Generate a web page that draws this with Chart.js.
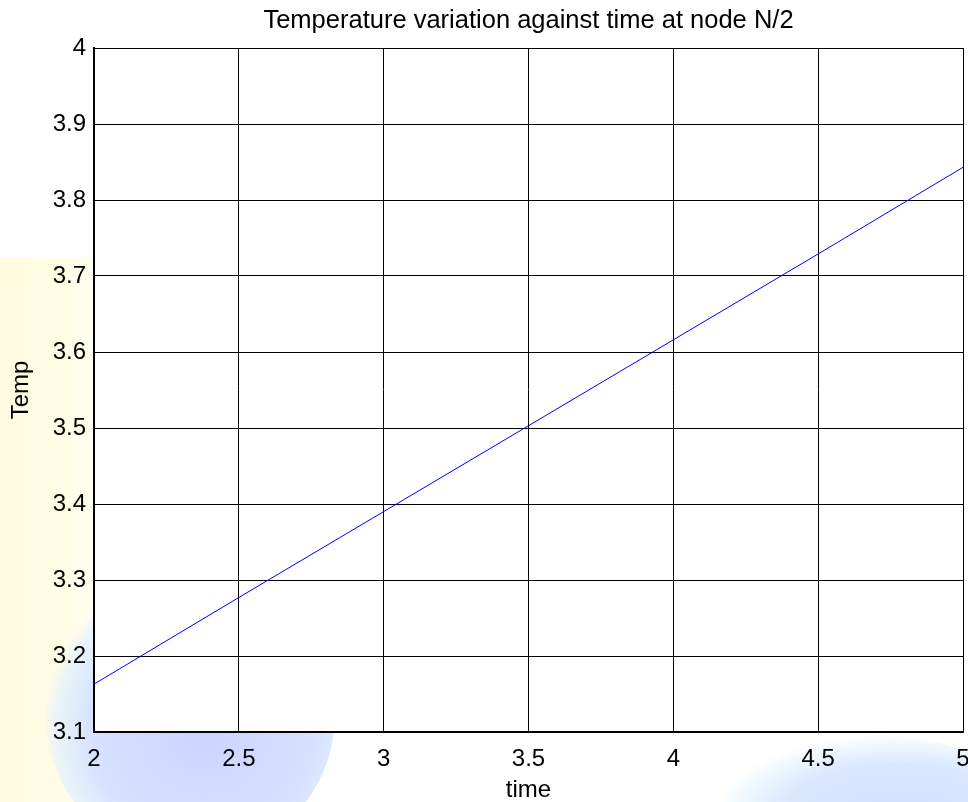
<!DOCTYPE html>
<html>
<head>
<meta charset="utf-8">
<script src="https://cdn.jsdelivr.net/npm/chart.js@4"></script>
<style>
  html, body { margin: 0; padding: 0; background: #fff; }
  #wrap { position: relative; width: 968px; height: 802px; overflow: hidden; }
  /* faint watermark behind the figure */
  .bg { position: absolute; }
  .bg.yellow { left: 0; top: 258px; width: 93px; height: 544px;
    background: linear-gradient(90deg, #fffbe0 0%, #fffde6 70%, #fffef0 100%); }
  .bg.blue1 { left: 45px; top: 570px; width: 290px; height: 290px; border-radius: 50%;
    background: radial-gradient(circle at 55% 55%, #cdd3ff 0%, #d6e2ff 50%, rgba(225,240,255,0.7) 66%, rgba(255,255,255,0) 72%); }
  .bg.blue3 { left: 720px; top: 735px; width: 300px; height: 140px; border-radius: 50%;
    background: radial-gradient(ellipse at 60% 55%, #d2dfff 0%, #dae8ff 45%, rgba(230,245,255,0.6) 63%, rgba(255,255,255,0) 72%); }
  canvas { position: absolute; left: 0; top: 0; }
</style>
</head>
<body>
<div id="wrap">
  <div class="bg yellow"></div>
  <div class="bg blue1"></div>
  <div class="bg blue3"></div>
  <canvas id="chart" width="968" height="802"></canvas>
</div>
<script>
// values
const timeValues = [2, 2.5, 3, 3.5, 4, 4.5, 5];
const tempValues = [3.163, 3.277, 3.390, 3.503, 3.616, 3.729, 3.843];

const xTicks = [2, 2.5, 3, 3.5, 4, 4.5, 5];
const yTicks = [3.1, 3.2, 3.3, 3.4, 3.5, 3.6, 3.7, 3.8, 3.9, 4];

const chartTitle = 'Temperature variation against time at node N/2';
const xLabel = 'time';
const yLabel = 'Temp';

const FONT = "'Liberation Sans', Arial, sans-serif";

// white plot box behind the grid
const plotBackground = {
    id: 'plotBackground',
    beforeDraw(chart) {
        const { ctx, chartArea } = chart;
        ctx.save();
        ctx.fillStyle = '#ffffff';
        ctx.fillRect(chartArea.left, chartArea.top,
            chartArea.right - chartArea.left, chartArea.bottom - chartArea.top);
        ctx.restore();
    }
};

// title centred over the plot box (matlab style), not over the whole canvas
const axesTitle = {
    id: 'axesTitle',
    afterDraw(chart) {
        const { ctx, chartArea } = chart;
        ctx.save();
        ctx.fillStyle = '#000';
        ctx.font = '25.5px ' + FONT;
        ctx.textAlign = 'center';
        ctx.textBaseline = 'middle';
        ctx.fillText(chartTitle, (chartArea.left + chartArea.right) / 2, chartArea.top - 27);
        ctx.restore();
    }
};

const fmt = v => String(+Number(v).toFixed(2));

const ctx = document.getElementById('chart').getContext('2d');
new Chart(ctx, {
    type: 'line',
    data: {
        datasets: [{
            data: timeValues.map((t, i) => ({ x: t, y: tempValues[i] })),
            borderColor: '#0000ff',
            borderWidth: 1,
            pointRadius: 0,
            tension: 0,
            fill: false
        }]
    },
    options: {
        responsive: false,
        animation: false,
        layout: { padding: { left: 0, right: 5, top: 48, bottom: 0 } },
        plugins: {
            legend: { display: false },
            tooltip: { enabled: false },
            title: { display: false }
        },
        scales: {
            x: {
                type: 'linear',
                min: 2,
                max: 5,
                afterBuildTicks: s => { s.ticks = xTicks.map(v => ({ value: v })); },
                afterFit: s => { s.height = 70; s.paddingRight = 0; s.paddingLeft = 0; },
                ticks: {
                    color: '#000',
                    font: { family: FONT, size: 24 },
                    padding: 13,
                    maxRotation: 0,
                    autoSkip: false,
                    callback: fmt
                },
                grid: { color: '#000', lineWidth: 1, drawTicks: false },
                border: { color: '#000', width: 2 },
                title: {
                    display: true,
                    text: xLabel,
                    color: '#000',
                    font: { family: FONT, size: 24, lineHeight: 1 },
                    padding: { top: 0, bottom: 0 }
                }
            },
            y: {
                min: 3.1,
                max: 4,
                afterBuildTicks: s => { s.ticks = yTicks.map(v => ({ value: v })); },
                afterFit: s => { s.width = 94; s.paddingTop = 0; s.paddingBottom = 0; },
                ticks: {
                    color: '#000',
                    font: { family: FONT, size: 24 },
                    padding: 8,
                    autoSkip: false,
                    callback: fmt
                },
                grid: { color: '#000', lineWidth: 1, drawTicks: false },
                border: { color: '#000', width: 2 },
                title: {
                    display: true,
                    text: yLabel,
                    color: '#000',
                    font: { family: FONT, size: 24 },
                    padding: { top: 7, bottom: 0 }
                }
            }
        }
    },
    plugins: [plotBackground, axesTitle]
});
</script>
</body>
</html>
